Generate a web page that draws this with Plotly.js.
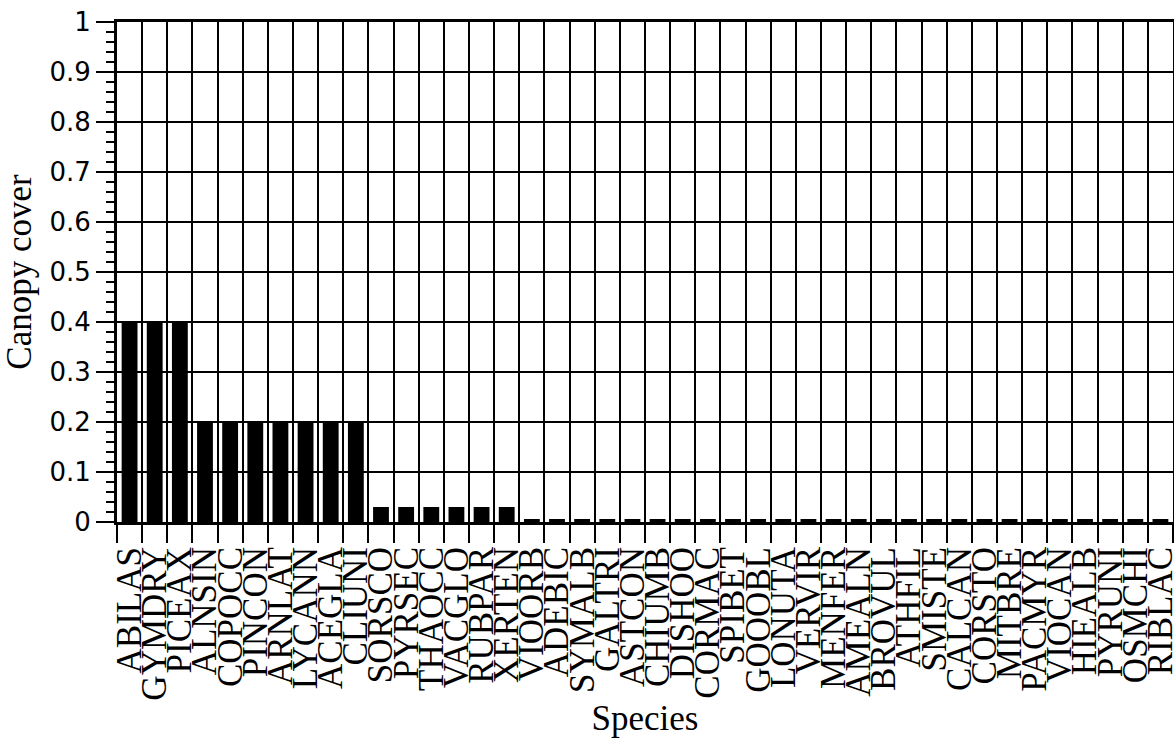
<!DOCTYPE html>
<html>
<head>
<meta charset="utf-8">
<script src="https://cdn.plot.ly/plotly-3.0.1.min.js"></script>
<style>
  html, body { margin: 0; padding: 0; background: #fff; }
  #chart { width: 1174px; height: 746px; }
</style>
</head>
<body>
<div id="chart"></div>
<script>
const species = [
  "ABILAS","GYMDRY","PICEAX","ALNSIN","COPOCC","PINCON","ARNLAT","LYCANN","ACEGLA","CLIUNI",
  "SORSCO","PYRSEC","THAOCC","VACGLO","RUBPAR","XERTEN","VIOORB","ADEBIC","SYMALB","GALTRI",
  "ASTCON","CHIUMB","DISHOO","CORMAC","SPIBET","GOOOBL","LONUTA","VERVIR","MENFER","AMEALN",
  "BROVUL","ATHFIL","SMISTE","CALCAN","CORSTO","MITBRE","PACMYR","VIOCAN","HIEALB","PYRUNI",
  "OSMCHI","RIBLAC"
];
const canopyCover = [
  0.4, 0.4, 0.4, 0.2, 0.2, 0.2, 0.2, 0.2, 0.2, 0.2,
  0.03, 0.03, 0.03, 0.03, 0.03, 0.03, 0.006, 0.006, 0.006, 0.006,
  0.006, 0.006, 0.006, 0.006, 0.006, 0.006, 0.006, 0.006, 0.006, 0.006,
  0.006, 0.006, 0.006, 0.006, 0.006, 0.006, 0.006, 0.006, 0.006, 0.006,
  0.006, 0.006
];
const yTickVals = [0, 0.1, 0.2, 0.3, 0.4, 0.5, 0.6, 0.7, 0.8, 0.9, 1];
const yTickText = ["0", "0.1", "0.2", "0.3", "0.4", "0.5", "0.6", "0.7", "0.8", "0.9", "1"];

const serif = "Liberation Serif, Times New Roman, serif";
const sans = "DejaVu Sans, Arial, sans-serif";

const trace = {
  type: "bar",
  x: species,
  y: canopyCover,
  marker: { color: "#000", line: { width: 0 } },
  hoverinfo: "x+y"
};

const layout = {
  width: 1174,
  height: 746,
  margin: { l: 117, r: 1, t: 22, b: 224 },
  paper_bgcolor: "#fff",
  plot_bgcolor: "#fff",
  bargap: 0.37,
  showlegend: false,
  font: { color: "#000" },
  xaxis: {
    type: "category",
    tickmode: "linear",
    tick0: 0,
    dtick: 1,
    tickson: "boundaries",
    ticks: "outside",
    ticklen: 18,
    tickwidth: 2,
    tickcolor: "#000",
    tickangle: -90,
    ticklabelstandoff: 8,
    tickfont: { family: serif, size: 35, color: "#000" },
    showgrid: true,
    gridcolor: "#000",
    gridwidth: 2,
    showline: true,
    linecolor: "#000",
    linewidth: 3,
    mirror: true,
    zeroline: false,
    title: { text: "Species", font: { family: serif, size: 35, color: "#000" }, standoff: 6 }
  },
  yaxis: {
    range: [0, 1],
    tickvals: yTickVals,
    ticktext: yTickText,
    ticks: "outside",
    ticklen: 18,
    tickwidth: 2,
    tickcolor: "#000",
    tickfont: { family: sans, size: 26, color: "#000" },
    minor: { dtick: 0.02, ticks: "outside", ticklen: 8, tickwidth: 1.5, tickcolor: "#000", showgrid: false },
    showgrid: true,
    gridcolor: "#000",
    gridwidth: 2,
    showline: true,
    linecolor: "#000",
    linewidth: 3,
    mirror: true,
    zeroline: false,
    title: { text: "Canopy cover", font: { family: serif, size: 35, color: "#000" }, standoff: 14 }
  }
};

Plotly.newPlot("chart", [trace], layout, { displayModeBar: false, staticPlot: true });
</script>
</body>
</html>
